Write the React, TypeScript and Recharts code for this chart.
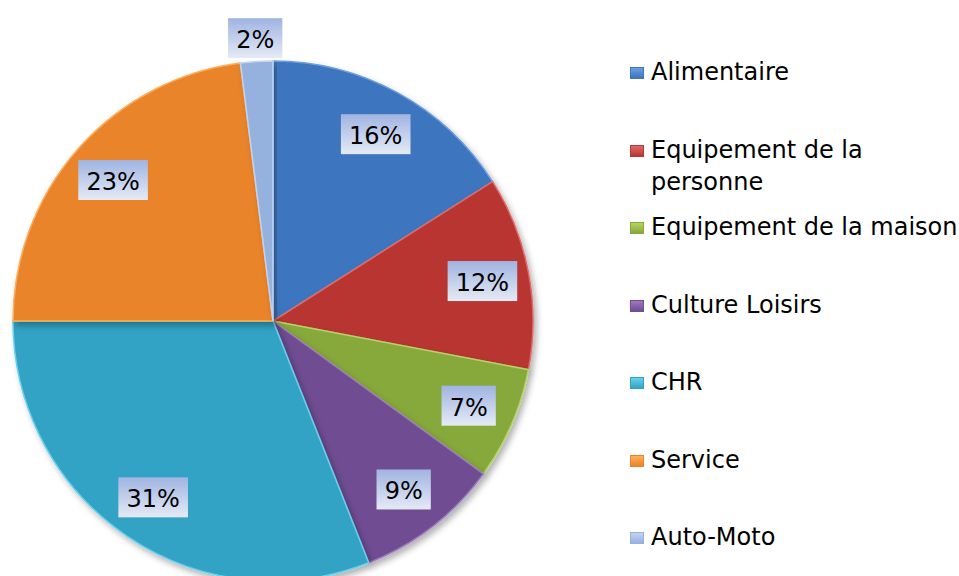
import { PieChart, Pie, Cell, Legend } from "recharts";

// Share of each sector (percent)
const categories = [
  "Alimentaire",
  "Equipement de la personne",
  "Equipement de la maison",
  "Culture Loisirs",
  "CHR",
  "Service",
  "Auto-Moto",
];
const shares = [16, 12, 7, 9, 31, 23, 2];
const colors = ["#3d75be", "#b83633", "#87a93b", "#6f4e93", "#33a3c4", "#ea8429", "#95b1dd"];
const markerLight = ["#6f9de0", "#e06a66", "#b4d463", "#9b78bf", "#67d0ec", "#ffae5c", "#c2d3f0"];

const data = categories.map((name, i) => ({ name, value: shares[i] }));

const RADIAN = Math.PI / 180;
const FONT = '"DejaVu Sans", sans-serif';

// eslint-disable-next-line @typescript-eslint/no-explicit-any
const renderLabel = (props: any) => {
  const { cx, cy, midAngle, outerRadius, value } = props;
  const r = value < 3 ? outerRadius * 1.09 : outerRadius * 0.82;
  const x = cx + r * Math.cos(-midAngle * RADIAN);
  const y = cy + r * Math.sin(-midAngle * RADIAN);
  const text = `${value}%`;
  const w = String(value).length * 15.3 + 39;
  const h = 40;
  return (
    <g>
      <rect x={x - w / 2} y={y - h / 2} width={w} height={h} fill="url(#labelGrad)" />
      <text
        x={x}
        y={y + 2}
        textAnchor="middle"
        dominantBaseline="central"
        fill="#000"
        fontSize={24}
        fontFamily={FONT}
      >
        {text}
      </text>
    </g>
  );
};

// legend drawn in data order (not sorted)
const renderLegend = () => (
  <div style={{ fontFamily: FONT, fontSize: 24, color: "#000" }}>
    {categories.map((name, i) => (
      <div key={name} style={{ height: 77.5, display: "flex", alignItems: "flex-start" }}>
        <span
          style={{
            width: 14,
            height: 12,
            marginTop: 11,
            marginRight: 7,
            flexShrink: 0,
            background: `linear-gradient(180deg, ${markerLight[i]} 0%, ${colors[i]} 100%)`,
            border: `1px solid ${colors[i]}`,
            boxSizing: "border-box",
          }}
        />
        <span
          style={{
            lineHeight: "32px",
            width: name === "Equipement de la personne" ? 240 : undefined,
            whiteSpace: name === "Equipement de la personne" ? "normal" : "nowrap",
          }}
        >
          {name}
        </span>
      </div>
    ))}
  </div>
);

export default function App() {
  return (
    <div style={{ position: "absolute", left: 0, top: 0, width: 959, height: 576, background: "#fff" }}>
      <PieChart width={959} height={576} margin={{ top: 0, right: 0, bottom: 0, left: 0 }}>
        <defs>
          <linearGradient id="labelGrad" x1="0" y1="0" x2="0" y2="1">
            <stop offset="0%" stopColor="#a0b4e1" />
            <stop offset="100%" stopColor="#e5eaf5" />
          </linearGradient>
          <filter id="pieShadow" x="-10%" y="-10%" width="120%" height="120%">
            <feDropShadow dx="3" dy="4" stdDeviation="3" floodColor="#000" floodOpacity="0.3" />
          </filter>
        </defs>
        <Pie
          data={data}
          dataKey="value"
          nameKey="name"
          cx={273}
          cy={321}
          outerRadius={260}
          startAngle={90}
          endAngle={-270}
          label={renderLabel}
          labelLine={false}
          isAnimationActive={false}
          style={{ filter: "url(#pieShadow)" }}
        >
          {data.map((d, i) => (
            <Cell key={d.name} fill={colors[i]} stroke={markerLight[i]} strokeWidth={1.5} />
          ))}
        </Pie>
        <Legend
          content={renderLegend}
          layout="vertical"
          wrapperStyle={{ left: 630, top: 56, width: 329 }}
        />
      </PieChart>
    </div>
  );
}
